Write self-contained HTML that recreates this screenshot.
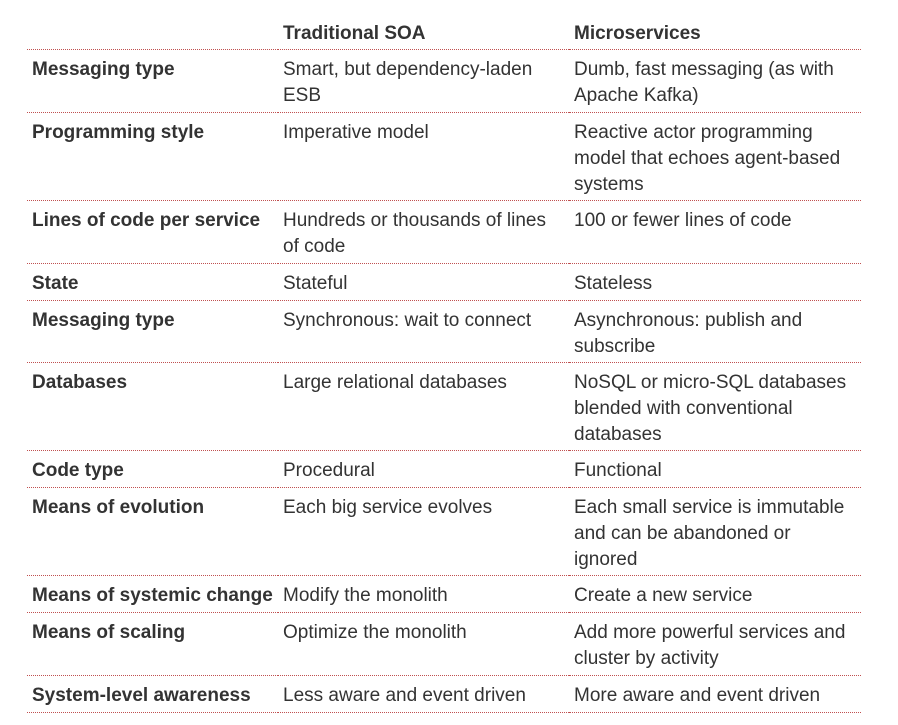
<!DOCTYPE html>
<html><head><style>
body{margin:0;background:#fff;width:898px;height:725px;overflow:hidden}
table{position:absolute;left:27px;top:13px;border-collapse:collapse;width:834px;table-layout:fixed;font-family:"Liberation Sans",Arial,sans-serif;font-size:19px;line-height:26px;color:#333}
td,th{padding:7px 5px 0 5px;vertical-align:top;text-align:left;border-bottom:1px dotted #c05050}
th{font-weight:bold;padding:8px 5px 2px 5px;line-height:25.5px}
td:first-child{font-weight:bold;white-space:nowrap}
.a{height:62px}.b{height:88px}.c{height:63px}.d{height:37px}
</style></head><body>
<table>
<colgroup><col style="width:251px"><col style="width:291px"><col style="width:292px"></colgroup>
<tr><th></th><th>Traditional SOA</th><th>Microservices</th></tr>
<tr class="c"><td>Messaging type</td><td>Smart, but dependency-laden ESB</td><td>Dumb, fast messaging (as with Apache Kafka)</td></tr>
<tr class="b"><td>Programming style</td><td>Imperative model</td><td>Reactive actor programming model that echoes agent-based systems</td></tr>
<tr class="c"><td>Lines of code per service</td><td>Hundreds or thousands of lines of code</td><td>100 or fewer lines of code</td></tr>
<tr class="d"><td>State</td><td>Stateful</td><td>Stateless</td></tr>
<tr class="a"><td>Messaging type</td><td>Synchronous: wait to connect</td><td>Asynchronous: publish and subscribe</td></tr>
<tr class="b"><td>Databases</td><td>Large relational databases</td><td>NoSQL or micro-SQL databases blended with conventional databases</td></tr>
<tr class="d"><td>Code type</td><td>Procedural</td><td>Functional</td></tr>
<tr class="b"><td>Means of evolution</td><td>Each big service evolves</td><td>Each small service is immutable and can be abandoned or ignored</td></tr>
<tr class="d"><td>Means of systemic change</td><td>Modify the monolith</td><td>Create a new service</td></tr>
<tr class="c"><td>Means of scaling</td><td>Optimize the monolith</td><td>Add more powerful services and cluster by activity</td></tr>
<tr class="d"><td>System-level awareness</td><td>Less aware and event driven</td><td>More aware and event driven</td></tr>
</table>
</body></html>
